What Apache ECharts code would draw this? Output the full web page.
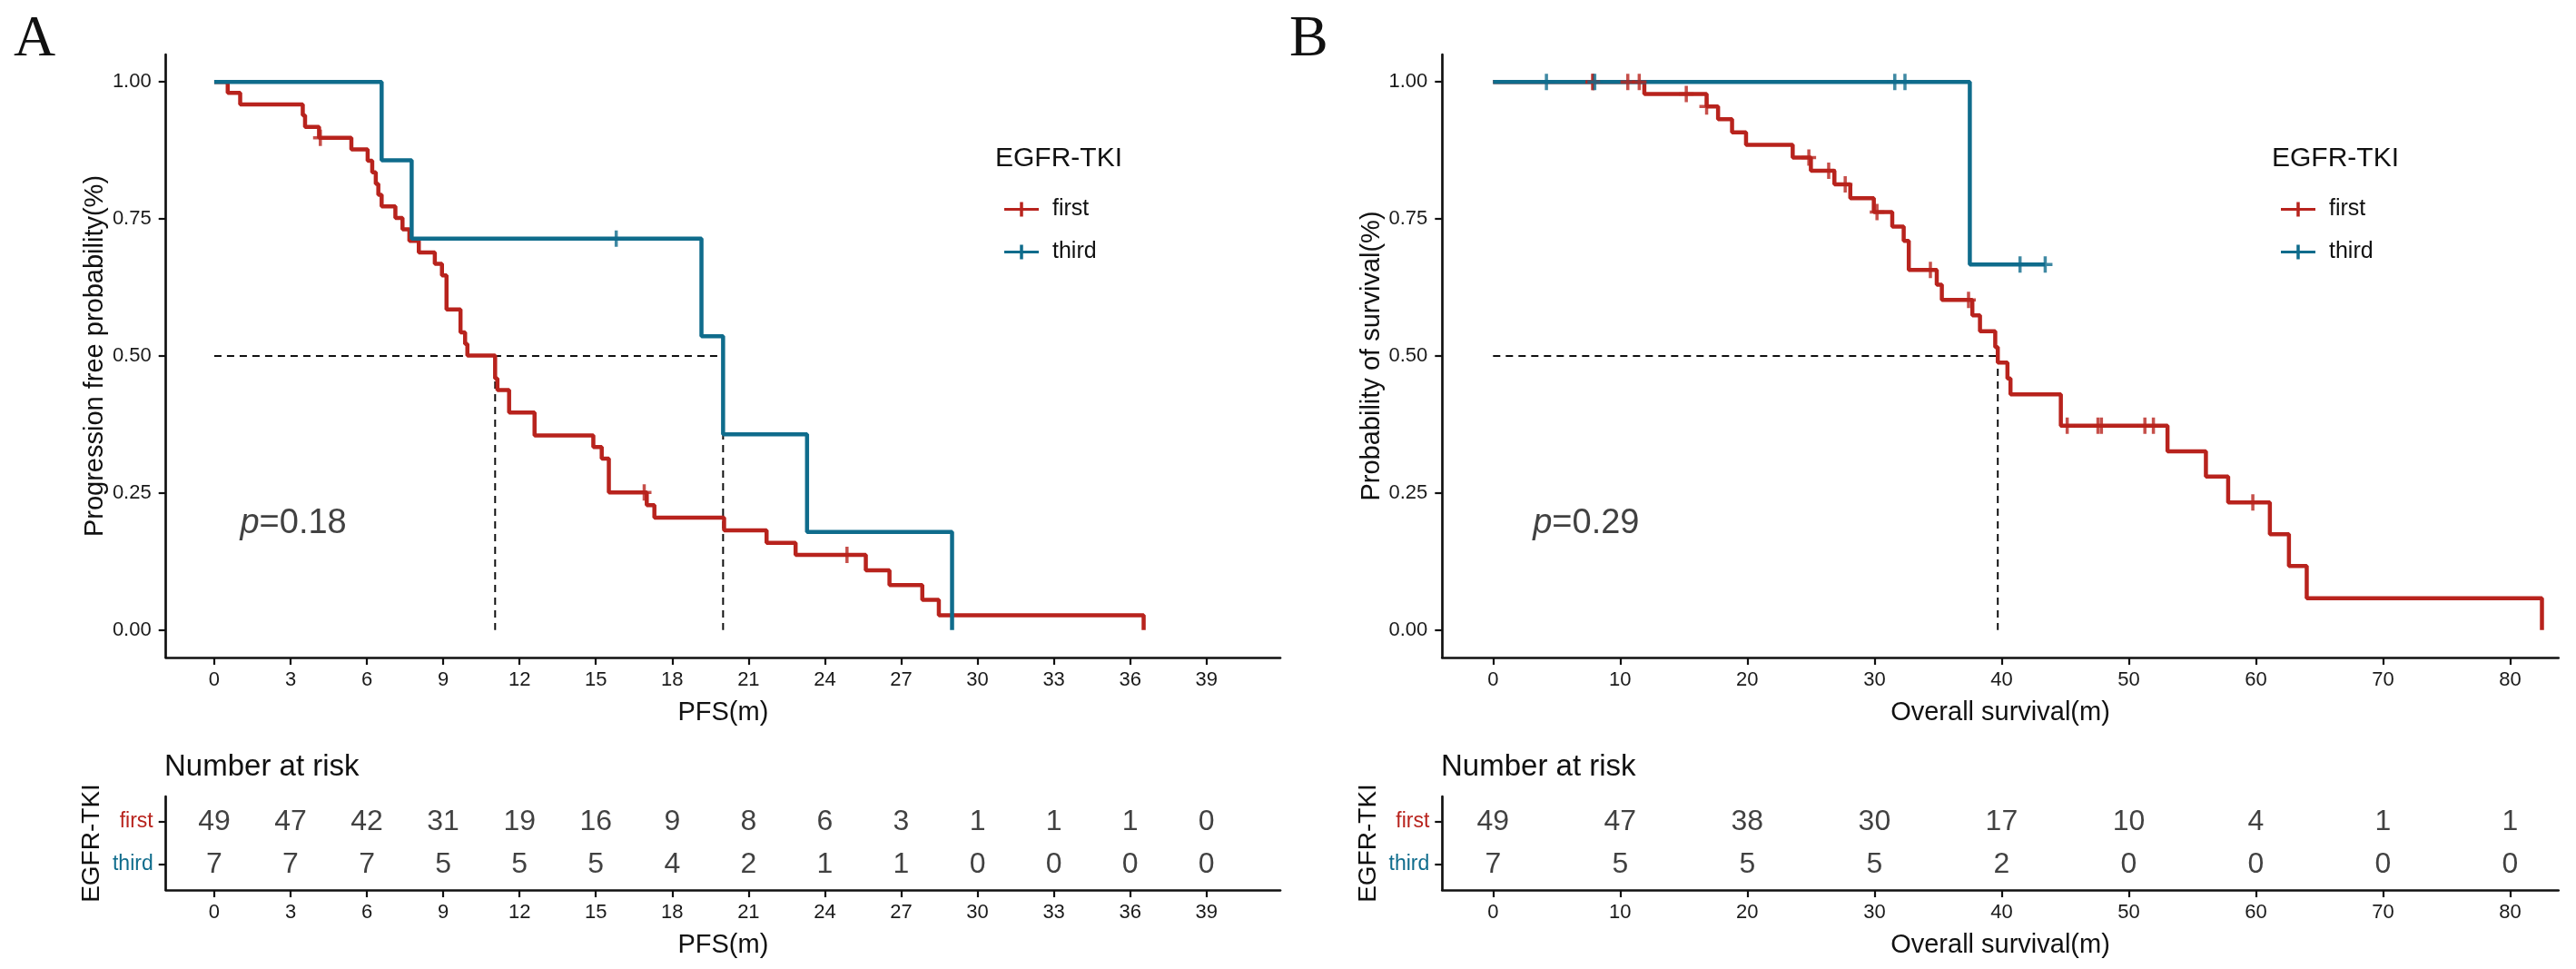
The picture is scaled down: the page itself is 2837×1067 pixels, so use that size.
<!DOCTYPE html>
<html><head><meta charset="utf-8">
<script src="https://cdn.jsdelivr.net/npm/echarts@6/dist/echarts.min.js"></script>
<style>html,body{margin:0;padding:0;background:#fff}#c{width:2837px;height:1067px}</style>
</head><body><div id="c"></div>
<script>
// ================= DATA =================
const groups = ['first', 'third'];

// Panel A – PFS (months) Kaplan–Meier steps
const pfsFirstTime = [0, 0.53, 1.02, 3.48, 3.57, 4.12, 5.39, 6.03, 6.21, 6.35, 6.45, 6.58, 7.12, 7.40, 7.67, 8.04, 8.67, 8.95, 9.13, 9.68, 9.86, 9.95, 11.04, 11.13, 11.59, 12.59, 14.90, 15.23, 15.51, 17.00, 17.30, 20.04, 21.71, 22.85, 25.61, 26.54, 27.83, 28.48, 36.53];
const pfsFirstSurv = [1, 0.980, 0.959, 0.939, 0.918, 0.898, 0.877, 0.856, 0.835, 0.814, 0.794, 0.773, 0.752, 0.731, 0.710, 0.689, 0.668, 0.647, 0.585, 0.543, 0.522, 0.501, 0.459, 0.438, 0.397, 0.355, 0.334, 0.313, 0.251, 0.228, 0.205, 0.182, 0.159, 0.137, 0.109, 0.082, 0.055, 0.027, 0];
const pfsFirstCensorTime = [4.17, 16.90, 24.87];
const pfsFirstCensorSurv = [0.898, 0.251, 0.137];
const pfsThirdTime = [0, 6.58, 7.76, 19.15, 20.00, 23.30, 29.00];
const pfsThirdSurv = [1, 0.857, 0.714, 0.536, 0.357, 0.179, 0];
const pfsThirdCensorTime = [15.80];
const pfsThirdCensorSurv = [0.714];
const pfsMedians = [11.04, 20.00];
const pfsTicks = [0, 3, 6, 9, 12, 15, 18, 21, 24, 27, 30, 33, 36, 39];
const pfsRiskFirst = [49, 47, 42, 31, 19, 16, 9, 8, 6, 3, 1, 1, 1, 0];
const pfsRiskThird = [7, 7, 7, 5, 5, 5, 4, 2, 1, 1, 0, 0, 0, 0];
const pfsPValue = '0.18';

// Panel B – Overall survival (months)
const osFirstTime = [0, 11.9, 16.8, 17.7, 18.8, 19.9, 23.57, 25.0, 26.85, 28.1, 29.95, 31.4, 32.3, 32.7, 34.9, 35.3, 37.7, 38.3, 39.5, 39.7, 40.46, 40.70, 44.66, 53.05, 56.07, 57.82, 61.1, 62.6, 64.0, 82.5];
const osFirstSurv = [1, 0.978, 0.955, 0.932, 0.908, 0.885, 0.862, 0.838, 0.813, 0.788, 0.7625, 0.736, 0.710, 0.657, 0.630, 0.6025, 0.574, 0.545, 0.516, 0.488, 0.459, 0.430, 0.373, 0.326, 0.280, 0.233, 0.175, 0.117, 0.058, 0];
const osFirstCensorTime = [7.85, 7.85, 10.6, 11.5, 15.2, 16.8, 24.84, 26.4, 27.7, 30.2, 34.4, 37.4, 45.16, 47.58, 47.85, 51.27, 51.94, 59.76];
const osFirstCensorSurv = [1, 1, 1, 1, 0.978, 0.955, 0.862, 0.838, 0.813, 0.7625, 0.657, 0.6025, 0.373, 0.373, 0.373, 0.373, 0.373, 0.233];
const osThirdTime = [0, 37.5, 43.43];
const osThirdSurv = [1, 0.667, 0.667];
const osThirdCensorTime = [4.2, 8.0, 31.6, 32.4, 41.45, 43.43];
const osThirdCensorSurv = [1, 1, 1, 1, 0.667, 0.667];
const osMedians = [39.7];
const osTicks = [0, 10, 20, 30, 40, 50, 60, 70, 80];
const osRiskFirst = [49, 47, 38, 30, 17, 10, 4, 1, 1];
const osRiskThird = [7, 5, 5, 5, 2, 0, 0, 0, 0];
const osPValue = '0.29';

const survTicks = [0, 0.25, 0.5, 0.75, 1];

// ================= STYLE =================
const FONT = '"Liberation Sans", Arial, Helvetica, sans-serif';
const RED = '#B8231D';
const BLUE = '#0F6C8C';
const INK = '#111';
const CENSOR = 'path://M0,7.25H16V10.75H0Z M6.25,0H9.75V18H6.25Z';
const LEGEND_ICON = 'path://M0,6.5H38V9.5H0Z M17.25,0H20.75V16H17.25Z';

const pair = (a, b) => a.map((v, i) => [v, b[i]]);

function xAxisDef(grid, min, max, ticks, name) {
  return {
    type: 'value', gridIndex: grid, min: min, max: max,
    name: name, nameLocation: 'middle', nameGap: 46,
    nameTextStyle: { fontSize: 29, fontFamily: FONT, color: INK },
    axisLine: { show: true, onZero: false, lineStyle: { color: INK, width: 2.7 } },
    axisTick: { show: true, length: 8, customValues: ticks, lineStyle: { color: INK, width: 2.2 } },
    axisLabel: { customValues: ticks, fontSize: 22, fontFamily: FONT, color: '#1a1a1a', margin: 14 },
    splitLine: { show: false }
  };
}
function yAxisMain(grid, name) {
  return {
    type: 'value', gridIndex: grid, min: -0.05, max: 1.05,
    name: name, nameLocation: 'middle', nameGap: 61, nameRotate: 90,
    nameTextStyle: { fontSize: 29, fontFamily: FONT, color: INK },
    axisLine: { show: true, onZero: false, lineStyle: { color: INK, width: 2.7 } },
    axisTick: { show: true, length: 8, customValues: survTicks, lineStyle: { color: INK, width: 2.2 } },
    axisLabel: { customValues: survTicks, fontSize: 22, fontFamily: FONT, color: '#1a1a1a', margin: 16,
      formatter: v => Number(v).toFixed(2) },
    splitLine: { show: false }
  };
}
function yAxisRisk(grid) {
  return {
    type: 'value', gridIndex: grid, min: 0.4, max: 2.6, inverse: true,
    name: 'EGFR-TKI', nameLocation: 'middle', nameGap: 67, nameRotate: 90,
    nameTextStyle: { fontSize: 28, fontFamily: FONT, color: INK },
    axisLine: { show: true, onZero: false, lineStyle: { color: INK, width: 2.7 } },
    axisTick: { show: true, length: 8, customValues: [1, 2], lineStyle: { color: INK, width: 2.2 } },
    axisLabel: { customValues: [1, 2], margin: 14,
      formatter: v => Math.round(v) === 1 ? '{a|' + groups[0] + '}' : '{b|' + groups[1] + '}',
      rich: { a: { color: RED, fontSize: 23, fontFamily: FONT }, b: { color: BLUE, fontSize: 23, fontFamily: FONT } } },
    splitLine: { show: false }
  };
}

function panelSeries(pi, d) {
  const xm = pi * 2, xr = pi * 2 + 1;
  const s = [];
  // median dashed lines
  const mMax = Math.max.apply(null, d.medians);
  const dash = { color: '#111', width: 2, type: [8, 6] };
  s.push({ type: 'line', xAxisIndex: xm, yAxisIndex: xm, data: [[0, 0.5], [mMax, 0.5]], showSymbol: false, silent: true, lineStyle: dash, z: 1 });
  d.medians.forEach(m => s.push({ type: 'line', xAxisIndex: xm, yAxisIndex: xm, data: [[m, 0.5], [m, 0]], showSymbol: false, silent: true, lineStyle: dash, z: 1 }));
  // KM curves
  s.push({ name: groups[0], type: 'line', step: 'end', xAxisIndex: xm, yAxisIndex: xm, data: pair(d.fT, d.fS), showSymbol: false,
    lineStyle: { color: RED, width: 4.5 }, itemStyle: { color: RED }, z: 3 });
  s.push({ name: groups[1], type: 'line', step: 'end', xAxisIndex: xm, yAxisIndex: xm, data: pair(d.tT, d.tS), showSymbol: false,
    lineStyle: { color: BLUE, width: 4.5 }, itemStyle: { color: BLUE }, z: 4 });
  // censor marks
  s.push({ name: groups[0], type: 'scatter', xAxisIndex: xm, yAxisIndex: xm, data: pair(d.fCT, d.fCS), symbol: CENSOR, symbolSize: [16, 18],
    itemStyle: { color: RED }, z: 5 });
  s.push({ name: groups[1], type: 'scatter', xAxisIndex: xm, yAxisIndex: xm, data: pair(d.tCT, d.tCS), symbol: CENSOR, symbolSize: [16, 18],
    itemStyle: { color: BLUE }, z: 6 });
  // p-value
  s.push({ type: 'scatter', xAxisIndex: xm, yAxisIndex: xm, data: [[d.pX, 0.195]], symbolSize: 1, itemStyle: { color: 'rgba(0,0,0,0)' }, silent: true,
    label: { show: true, position: 'right', distance: 0, formatter: '{i|p}{n|=' + d.p + '}',
      rich: { i: { fontStyle: 'italic', fontSize: 38, fontFamily: FONT, color: INK }, n: { fontSize: 38, fontFamily: FONT, color: INK } } } });
  // number at risk
  [d.rF, d.rT].forEach((arr, gi) => {
    s.push({ type: 'scatter', xAxisIndex: xr, yAxisIndex: xr, data: d.ticks.map((t, i) => [t, gi + 1, arr[i]]), symbolSize: 1,
      itemStyle: { color: 'rgba(0,0,0,0)' }, silent: true,
      label: { show: true, position: 'inside', formatter: p => String(p.value[2]), fontSize: 32, fontFamily: FONT, color: INK } });
  });
  return s;
}

const A = { fT: pfsFirstTime, fS: pfsFirstSurv, tT: pfsThirdTime, tS: pfsThirdSurv, fCT: pfsFirstCensorTime, fCS: pfsFirstCensorSurv,
  tCT: pfsThirdCensorTime, tCS: pfsThirdCensorSurv, medians: pfsMedians, ticks: pfsTicks, rF: pfsRiskFirst, rT: pfsRiskThird, p: pfsPValue, pX: 1.0 };
const B = { fT: osFirstTime, fS: osFirstSurv, tT: osThirdTime, tS: osThirdSurv, fCT: osFirstCensorTime, fCS: osFirstCensorSurv,
  tCT: osThirdCensorTime, tCS: osThirdCensorSurv, medians: osMedians, ticks: osTicks, rF: osRiskFirst, rT: osRiskThird, p: osPValue, pX: 3.1 };

function legendDef(left) {
  return {
    left: left, top: 213, orient: 'vertical', selectedMode: false,
    data: [{ name: groups[0], itemStyle: { color: RED } }, { name: groups[1], itemStyle: { color: BLUE } }],
    icon: LEGEND_ICON, itemWidth: 38, itemHeight: 16, itemGap: 22,
    textStyle: { fontSize: 25, fontFamily: FONT, color: INK, lineHeight: 25, padding: [0, 0, 0, 10] }
  };
}
function txt(x, y, text, size, extra) {
  return Object.assign({ type: 'text', x: x, y: y, silent: true,
    style: Object.assign({ text: text, fontSize: size, fontFamily: FONT, fill: INK, verticalAlign: 'middle', align: 'left' }, extra || {}) });
}

const option = {
  backgroundColor: '#fff',
  animation: false,
  grid: [
    { left: 182.7, top: 60, width: 1227.3, height: 664 },
    { left: 182.7, top: 877, width: 1227.3, height: 103 },
    { left: 1588.3, top: 60, width: 1229.4, height: 664 },
    { left: 1588.3, top: 877, width: 1229.4, height: 103 }
  ],
  xAxis: [
    xAxisDef(0, -1.9, 41.9, pfsTicks, 'PFS(m)'),
    xAxisDef(1, -1.9, 41.9, pfsTicks, 'PFS(m)'),
    xAxisDef(2, -4.0, 83.8, osTicks, 'Overall survival(m)'),
    xAxisDef(3, -4.0, 83.8, osTicks, 'Overall survival(m)')
  ],
  yAxis: [
    yAxisMain(0, 'Progression free probability(%)'),
    yAxisRisk(1),
    yAxisMain(2, 'Probability of survival(%)'),
    yAxisRisk(3)
  ],
  legend: [legendDef(1101), legendDef(2507)],
  graphic: [
    txt(15, 44, 'A', 64, { fontFamily: '"Liberation Serif", "Times New Roman", serif' }),
    txt(1420, 44, 'B', 64, { fontFamily: '"Liberation Serif", "Times New Roman", serif' }),
    txt(1096, 175, 'EGFR-TKI', 30),
    txt(2502, 175, 'EGFR-TKI', 30),
    txt(181, 845, 'Number at risk', 33),
    txt(1587, 845, 'Number at risk', 33)
  ],
  series: panelSeries(0, A).concat(panelSeries(1, B))
};

const chart = echarts.init(document.getElementById('c'), null, { renderer: 'canvas' });
chart.setOption(option);
</script>
</body></html>
